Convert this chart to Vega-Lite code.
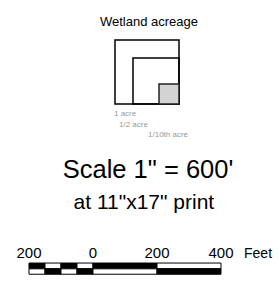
{
  "$schema": "https://vega.github.io/schema/vega-lite/v6.json",
  "width": 278,
  "height": 286,
  "padding": 0,
  "autosize": {"type": "none"},
  "background": "white",
  "config": {"view": {"stroke": null}, "font": "Liberation Sans"},
  "datasets": {
    "squares": [
      {"name": "1 acre", "x0": 68.75, "x1": 268.75, "y0": 125, "y1": 325, "kind": "outline"},
      {"name": "1/2 acre", "x0": 125, "x1": 268.75, "y0": 181.25, "y1": 325, "kind": "outline"},
      {"name": "1/10th acre", "x0": 206.25, "x1": 268.75, "y0": 262.5, "y1": 325, "kind": "filled"}
    ],
    "squareLabels": [
      {"text": "1 acre", "x": 65.6, "y": 361.6},
      {"text": "1/2 acre", "x": 81.25, "y": 396},
      {"text": "1/10th acre", "x": 171.9, "y": 427}
    ],
    "bar": [
      {"row": "top", "from": -200, "to": -150, "shade": "dark", "y0": 822, "y1": 840},
      {"row": "top", "from": -150, "to": -100, "shade": "light", "y0": 822, "y1": 840},
      {"row": "top", "from": -100, "to": -50, "shade": "dark", "y0": 822, "y1": 840},
      {"row": "top", "from": -50, "to": 0, "shade": "light", "y0": 822, "y1": 840},
      {"row": "top", "from": 0, "to": 200, "shade": "dark", "y0": 822, "y1": 840},
      {"row": "top", "from": 200, "to": 400, "shade": "light", "y0": 822, "y1": 840},
      {"row": "bottom", "from": -200, "to": -150, "shade": "light", "y0": 840, "y1": 857},
      {"row": "bottom", "from": -150, "to": -100, "shade": "dark", "y0": 840, "y1": 857},
      {"row": "bottom", "from": -100, "to": -50, "shade": "light", "y0": 840, "y1": 857},
      {"row": "bottom", "from": -50, "to": 0, "shade": "dark", "y0": 840, "y1": 857},
      {"row": "bottom", "from": 0, "to": 200, "shade": "light", "y0": 840, "y1": 857},
      {"row": "bottom", "from": 200, "to": 400, "shade": "dark", "y0": 840, "y1": 857}
    ],
    "barLabels": [
      {"text": "200", "x": -200, "y": 806},
      {"text": "0", "x": 0, "y": 806},
      {"text": "200", "x": 200, "y": 806},
      {"text": "400", "x": 400, "y": 806}
    ]
  },
  "encoding": {},
  "layer": [
    {
      "data": {"values": [{"text": "Wetland acreage", "x": 175, "y": 81.25}]},
      "mark": {"type": "text", "fontSize": 13, "color": "black", "baseline": "alphabetic", "align": "center"},
      "encoding": {
        "x": {"field": "x", "type": "quantitative", "scale": {"domain": [-290.6, 578.1], "nice": false, "zero": false}, "axis": null},
        "y": {"field": "y", "type": "quantitative", "scale": {"domain": [0, 893.75], "reverse": true, "nice": false, "zero": false}, "axis": null},
        "text": {"field": "text"}
      }
    },
    {
      "data": {"name": "squares"},
      "mark": {"type": "rect", "strokeWidth": 1.5},
      "encoding": {
        "x": {"field": "x0", "type": "quantitative"},
        "x2": {"field": "x1"},
        "y": {"field": "y0", "type": "quantitative"},
        "y2": {"field": "y1"},
        "fill": {"field": "kind", "type": "nominal", "scale": {"domain": ["outline", "filled"], "range": ["rgba(0,0,0,0)", "#d3d3d3"]}, "legend": null},
        "stroke": {"field": "kind", "type": "nominal", "scale": {"domain": ["outline", "filled"], "range": ["#000000", "#222222"]}, "legend": null}
      }
    },
    {
      "data": {"name": "squareLabels"},
      "mark": {"type": "text", "fontSize": 8, "color": "#999999", "align": "left", "baseline": "alphabetic"},
      "encoding": {
        "x": {"field": "x", "type": "quantitative"},
        "y": {"field": "y", "type": "quantitative"},
        "text": {"field": "text"}
      }
    },
    {
      "data": {"values": [{"text": "Scale 1\" = 600'", "x": 171.9, "y": 556}]},
      "mark": {"type": "text", "fontSize": 25.5, "color": "black", "align": "center", "baseline": "alphabetic"},
      "encoding": {
        "x": {"field": "x", "type": "quantitative"},
        "y": {"field": "y", "type": "quantitative"},
        "text": {"field": "text"}
      }
    },
    {
      "data": {"values": [{"text": "at 11\"x17\" print", "x": 159, "y": 653}]},
      "mark": {"type": "text", "fontSize": 21, "color": "black", "align": "center", "baseline": "alphabetic"},
      "encoding": {
        "x": {"field": "x", "type": "quantitative"},
        "y": {"field": "y", "type": "quantitative"},
        "text": {"field": "text"}
      }
    },
    {
      "data": {"name": "bar"},
      "mark": {"type": "rect", "stroke": "black", "strokeWidth": 1},
      "encoding": {
        "x": {"field": "from", "type": "quantitative"},
        "x2": {"field": "to"},
        "y": {"field": "y0", "type": "quantitative"},
        "y2": {"field": "y1"},
        "fill": {"field": "shade", "type": "nominal", "scale": {"domain": ["dark", "light"], "range": ["#000000", "#ffffff"]}, "legend": null}
      }
    },
    {
      "data": {"name": "barLabels"},
      "mark": {"type": "text", "fontSize": 15, "color": "black", "align": "center", "baseline": "alphabetic"},
      "encoding": {
        "x": {"field": "x", "type": "quantitative"},
        "y": {"field": "y", "type": "quantitative"},
        "text": {"field": "text"}
      }
    },
    {
      "data": {"values": [{"text": "Feet", "x": 471.9, "y": 806}]},
      "mark": {"type": "text", "fontSize": 14, "color": "black", "align": "left", "baseline": "alphabetic"},
      "encoding": {
        "x": {"field": "x", "type": "quantitative"},
        "y": {"field": "y", "type": "quantitative"},
        "text": {"field": "text"}
      }
    }
  ],
  "resolve": {"scale": {"fill": "independent", "stroke": "independent"}}
}
